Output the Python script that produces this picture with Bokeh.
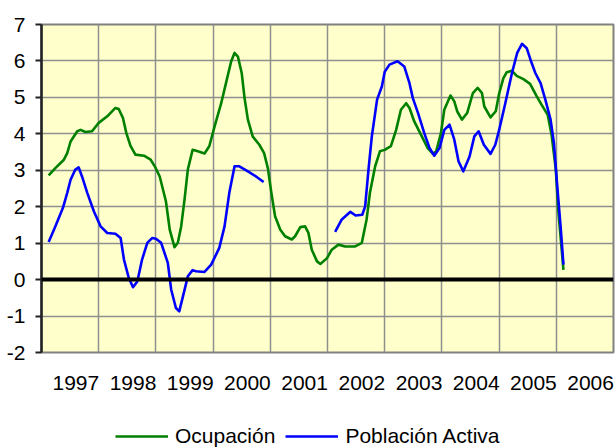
import numpy as np
from bokeh.plotting import figure
from bokeh.layouts import column
from bokeh.models import (Range1d, FixedTicker, Span, Legend, LegendItem,
                          ColumnDataSource)
from bokeh.embed import file_html
from bokeh.resources import INLINE

# ---- data (x = months counted from the first grid line, y = % variation) ----
INICIO = 1996.40  # decimal year of the first vertical grid line

meses_ocupacion = [1.5, 2.9, 4.7, 5.4, 6.1, 7.5, 8.2, 9.2, 10.6, 12.0, 13.8, 15.5,
                   16.2, 17.1, 17.8, 18.7, 19.7, 21.5, 22.9, 23.8, 24.8, 26.1, 26.9,
                   27.9, 28.6, 29.3, 30.0, 30.7, 31.7, 32.8, 34.2, 35.2, 36.3, 37.7,
                   38.7, 39.8, 40.5, 41.2, 42.0, 42.6, 43.3, 44.3, 45.7, 46.7, 47.5,
                   48.2, 49.0, 50.1, 51.1, 52.5, 53.2, 54.3, 55.3, 56.0, 56.7, 57.8,
                   58.5, 59.9, 60.9, 62.3, 63.7, 65.8, 67.2, 68.2, 68.9, 70.0, 71.0,
                   72.0, 73.3, 74.4, 75.4, 76.5, 77.2, 78.2, 79.6, 81.0, 82.1, 82.8,
                   83.8, 84.5, 85.8, 86.6, 87.2, 88.2, 89.3, 90.5, 91.5, 92.4, 92.9,
                   94.2, 95.3, 96.0, 96.9, 97.6, 98.7, 99.7, 101.1, 102.5, 103.9,
                   104.9, 106.2, 107.0, 107.9, 108.4, 109.5]
ocupacion = [2.86, 3.06, 3.29, 3.47, 3.79, 4.07, 4.11, 4.05, 4.07, 4.30, 4.48, 4.71,
             4.68, 4.43, 4.02, 3.66, 3.43, 3.40, 3.29, 3.10, 2.83, 2.15, 1.37,
             0.89, 1.01, 1.46, 2.19, 3.02, 3.56, 3.52, 3.46, 3.66, 4.20, 4.84,
             5.39, 5.99, 6.22, 6.12, 5.67, 4.98, 4.39, 3.93, 3.70, 3.47, 3.05,
             2.40, 1.74, 1.37, 1.19, 1.10, 1.19, 1.44, 1.46, 1.28, 0.82, 0.50,
             0.43, 0.59, 0.82, 0.96, 0.91, 0.91, 1.01, 1.65, 2.38, 3.11, 3.52,
             3.56, 3.66, 4.11, 4.66, 4.84, 4.71, 4.34, 3.98, 3.61, 3.46, 3.52,
             4.02, 4.66, 5.05, 4.89, 4.62, 4.39, 4.57, 5.12, 5.26, 5.12, 4.75,
             4.45, 4.62, 5.10, 5.53, 5.69, 5.73, 5.59, 5.50, 5.37, 5.03,
             4.80, 4.52, 3.98, 3.02, 1.92, 0.27]

meses_activa = [1.5, 2.9, 4.5, 5.4, 6.1, 7.1, 7.8, 8.5, 9.6, 11.0, 12.4, 13.8, 15.5,
                16.6, 17.3, 18.3, 19.2, 20.1, 21.1, 22.2, 23.2, 24.0, 25.1, 26.5,
                27.2, 28.2, 28.9, 29.6, 30.7, 31.7, 32.4, 34.2, 35.6, 37.3, 38.4,
                39.4, 40.5, 41.5, 43.3, 45.0, 46.6, 54.0,
                61.6, 63.0, 64.8, 65.9, 67.3, 67.9, 68.6, 69.3, 70.4, 71.4, 72.0,
                73.0, 74.7, 76.1, 77.2, 77.9, 79.0, 80.3, 81.4, 82.4, 83.5, 84.5,
                85.6, 86.6, 87.5, 88.5, 89.8, 90.8, 91.7, 92.8, 94.2, 95.2, 96.0,
                97.3, 98.7, 99.8, 100.8, 101.8, 102.7, 103.6, 104.7, 105.7, 106.8,
                107.5, 108.2, 108.9, 109.5]
activa = [1.03, 1.46, 1.97, 2.38, 2.74, 3.02, 3.08, 2.83, 2.38, 1.87, 1.46, 1.28, 1.26,
          1.14, 0.55, 0.05, -0.21, -0.05, 0.55, 1.01, 1.14, 1.12, 1.01, 0.46,
          -0.27, -0.78, -0.87, -0.50, 0.09, 0.26, 0.23, 0.21, 0.41, 0.87, 1.46,
          2.38, 3.11, 3.11, 2.97, 2.83, 2.68, float("nan"),
          1.31, 1.65, 1.86, 1.76, 1.78, 2.01, 3.02, 3.93, 4.94, 5.30, 5.70,
          5.90, 5.99, 5.85, 5.39, 4.98, 4.57, 4.02, 3.61, 3.40, 3.61, 4.11,
          4.25, 3.84, 3.24, 2.97, 3.38, 3.93, 4.07, 3.70, 3.45, 3.70, 4.10,
          4.84, 5.67, 6.22, 6.47, 6.35, 5.99, 5.67, 5.39, 4.94, 4.39,
          3.75, 2.56, 1.46, 0.41]

anios = [1997, 1998, 1999, 2000, 2001, 2002, 2003, 2004, 2005, 2006]
y_ticks = [-2, -1, 0, 1, 2, 3, 4, 5, 6, 7]
series = ["Ocupación", "Población Activa"]
colores = ["#008000", "#0000FF"]

FONT = "Liberation Sans"

x_oc = INICIO + np.array(meses_ocupacion) / 12.0
x_ac = INICIO + np.array(meses_activa) / 12.0

p = figure(width=616, height=400, output_backend="svg",
           toolbar_location=None,
           x_range=Range1d(INICIO, INICIO + 10), y_range=Range1d(-2, 7),
           min_border_left=41, min_border_right=3, min_border_top=24,
           min_border_bottom=48)
p.background_fill_color = "#FFFFCC"
p.border_fill_color = "white"
p.outline_line_color = "#808080"
p.outline_line_width = 2

# grid
p.xgrid.ticker = FixedTicker(ticks=[INICIO + k for k in range(11)])
p.ygrid.ticker = FixedTicker(ticks=y_ticks)
for g in (p.xgrid[0], p.ygrid[0]):
    g.grid_line_color = "#8f8f8f"
    g.grid_line_width = 1.5

# x axis: year labels only
p.xaxis.ticker = FixedTicker(ticks=anios)
p.xaxis.major_label_overrides = {a: str(a) for a in anios}
p.xaxis.axis_line_color = None
p.xaxis.major_tick_line_color = None
p.xaxis.minor_tick_line_color = None
p.xaxis.major_label_standoff = 17
p.xaxis.major_label_text_font = FONT
p.xaxis.major_label_text_font_size = "21px"
p.xaxis.major_label_text_color = "black"

# y axis
p.yaxis.ticker = FixedTicker(ticks=y_ticks)
p.yaxis.major_label_overrides = {t: str(t) for t in y_ticks}
p.yaxis.axis_line_color = "#222222"
p.yaxis.axis_line_width = 2.5
p.yaxis.major_tick_line_color = "#222222"
p.yaxis.major_tick_line_width = 2
p.yaxis.major_tick_out = 6
p.yaxis.major_tick_in = 0
p.yaxis.minor_tick_line_color = None
p.yaxis.major_label_standoff = 10
p.yaxis.major_label_text_font = FONT
p.yaxis.major_label_text_font_size = "21px"
p.yaxis.major_label_text_color = "black"

# zero line
p.add_layout(Span(location=0, dimension="width", line_color="black", line_width=4))

src_oc = ColumnDataSource(dict(x=x_oc, y=ocupacion))
src_ac = ColumnDataSource(dict(x=x_ac, y=activa))
p.line("x", "y", source=src_oc, line_color=colores[0], line_width=2.6,
       line_join="round")
p.line("x", "y", source=src_ac, line_color=colores[1], line_width=2.6,
       line_join="round")

# legend strip under the chart (its lines are placeholders kept off-range)
pl = figure(width=616, height=48, output_backend="svg", toolbar_location=None,
            x_range=Range1d(0, 1), y_range=Range1d(0, 1), min_border=0)
pl.axis.visible = False
pl.grid.visible = False
pl.outline_line_color = None
pl.background_fill_color = "white"
lr = [pl.line(x=[5, 6], y=[5, 5], line_color=c, line_width=2.6) for c in colores]
legend = Legend(items=[LegendItem(label=s, renderers=[r]) for s, r in zip(series, lr)],
                orientation="horizontal", location=(74, 0))
legend.glyph_width = 53
legend.glyph_height = 22
legend.label_standoff = 7
legend.spacing = 10
legend.padding = 0
legend.margin = 0
legend.border_line_color = None
legend.background_fill_alpha = 0
legend.label_text_font = FONT
legend.label_text_font_size = "21px"
legend.label_text_color = "black"
legend.label_height = 22
pl.add_layout(legend, "center")

layout = column(p, pl, spacing=0)
open("out.html", "w").write(file_html(layout, INLINE))
